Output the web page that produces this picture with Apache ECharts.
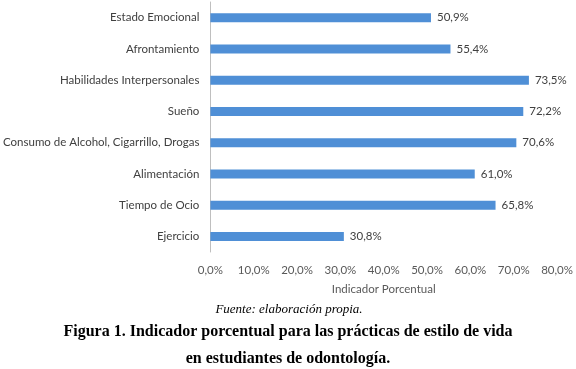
<!DOCTYPE html>
<html>
<head>
<meta charset="utf-8">
<script src="https://cdn.jsdelivr.net/npm/echarts@6/dist/echarts.min.js"></script>
<style>
  html, body { margin: 0; padding: 0; background: #fff; }
  #chart { width: 576px; height: 369px; }
</style>
</head>
<body>
<div id="chart"></div>
<script>
// categorias (de abajo hacia arriba, como las dibuja el eje)
var categorias = ['Ejercicio', 'Tiempo de Ocio', 'Alimentación',
    'Consumo de Alcohol, Cigarrillo, Drogas', 'Sueño',
    'Habilidades Interpersonales', 'Afrontamiento', 'Estado Emocional'];
var valores = [30.8, 65.8, 61.0, 70.6, 72.2, 73.5, 55.4, 50.9];
var ejeMin = 0, ejeMax = 80, ejeIntervalo = 10;

var fuenteTexto = 'Fuente: elaboración propia.';
var figuraTexto = 'Figura 1. Indicador porcentual para las prácticas de estilo de vida\nen estudiantes de odontología.';

function pct(v) {
    return v.toFixed(1).replace('.', ',') + '%';
}

var chart = echarts.init(document.getElementById('chart'));
var option = {
    animation: false,
    textStyle: { fontFamily: 'Lato' },
    title: [{
        text: fuenteTexto,
        left: 284, top: 298, textAlign: 'center',
        textStyle: { fontFamily: 'Liberation Serif', fontStyle: 'italic', fontWeight: 'normal', fontSize: 13, color: '#000' }
    }, {
        text: figuraTexto,
        left: 283, top: 313, textAlign: 'center',
        textStyle: { fontFamily: 'Liberation Serif', fontWeight: 'bold', fontSize: 16, color: '#000', lineHeight: 27 }
    }],
    grid: { left: 208, right: 18, top: 2, height: 250, containLabel: false },
    xAxis: {
        type: 'value',
        min: ejeMin, max: ejeMax, interval: ejeIntervalo,
        name: 'Indicador Porcentual',
        nameLocation: 'middle',
        nameGap: 31,
        nameTextStyle: { color: '#595959', fontSize: 11.5 },
        axisLine: { show: false },
        axisTick: { show: false },
        splitLine: { show: false },
        axisLabel: {
            color: '#595959', fontSize: 11.5, margin: 12,
            formatter: function (v) { return pct(v); }
        }
    },
    yAxis: {
        type: 'category',
        data: categorias,
        axisLine: { show: true, lineStyle: { color: '#bfbfbf', width: 1 } },
        axisTick: { show: false },
        axisLabel: { color: '#404040', fontSize: 11.5, margin: 11 }
    },
    series: [{
        type: 'bar',
        data: valores,
        barWidth: 9,
        itemStyle: { color: '#4f8fd6' },
        label: {
            show: true, position: 'right', distance: 6,
            color: '#404040', fontSize: 11.5,
            formatter: function (p) { return pct(p.value); }
        }
    }]
};
chart.setOption(option);
window.onresize = function () { chart.resize(); };
</script>
</body>
</html>
